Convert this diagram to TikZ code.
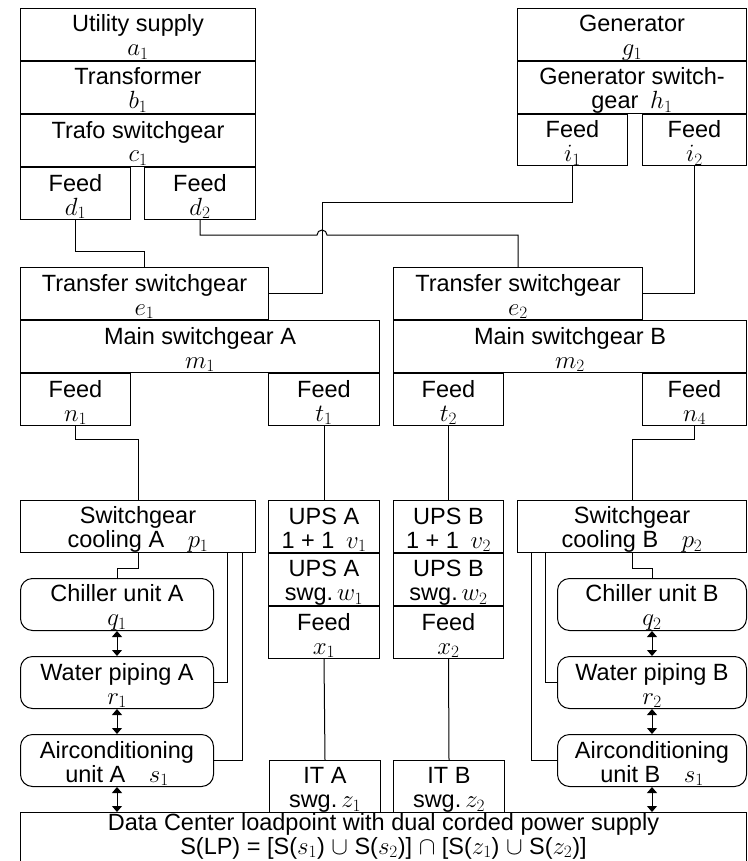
\documentclass[tikz,border=0pt]{standalone}
\usepackage{fontspec}
\setmainfont{Liberation Sans}
\usetikzlibrary{positioning,arrows.meta,calc}

\newcommand{\boxfont}{\fontsize{23.5}{24}\selectfont}

\begin{document}
\begin{tikzpicture}[x=1pt,y=-1pt,line width=1pt,
    box/.style={draw,rectangle,inner sep=0pt,align=center,font=\boxfont,
      execute at begin node={\rule[-4pt]{0pt}{51pt}}},
    unit/.style={box,rounded corners=12pt},
    lpbox/.style={draw,rectangle,inner sep=0pt,align=center,font=\boxfont,
      execute at begin node={\rule[-14pt]{0pt}{55pt}}},
    dbl/.style={{Triangle[width=10pt,length=6pt]}-{Triangle[width=10pt,length=6pt]}}]

    \useasboundingbox (0,0) rectangle (747,861);

    % Nodes - utility side
    \node[box,anchor=north west,minimum width=235pt,minimum height=52pt] (a1) at (20,8) {Utility supply\\$a_1$};
    \node[box,minimum width=235pt,minimum height=52pt] (b1) [below=0pt of a1] {Transformer\\$b_1$};
    \node[box,minimum width=235pt,minimum height=52pt] (c1) [below=0pt of b1] {Trafo switchgear\\$c_1$};
    \node[box,minimum width=110pt,minimum height=52pt] (d1) [below=0pt of c1.south west,anchor=north west] {Feed\\$d_1$};
    \node[box,minimum width=111pt,minimum height=52pt] (d2) [below=0pt of c1.south east,anchor=north east] {Feed\\$d_2$};

    % Nodes - generator side
    \node[box,anchor=north west,minimum width=229pt,minimum height=52pt] (g1) at (517,8) {Generator\\$g_1$};
    \node[box,minimum width=229pt,minimum height=52pt] (h1) [below=0pt of g1] {Generator switch-\\gear\enspace$h_1$};
    \node[box,minimum width=110pt,minimum height=51pt] (i1) [below=0pt of h1.south west,anchor=north west] {Feed\\$i_1$};
    \node[box,minimum width=104pt,minimum height=51pt] (i2) [below=0pt of h1.south east,anchor=north east] {Feed\\$i_2$};

    % Nodes - switchgear A and B
    \node[box,anchor=north west,minimum width=248pt,minimum height=52pt] (e1) at (20,267) {Transfer switchgear\\$e_1$};
    \node[box,minimum width=359pt,minimum height=52pt] (m1) [below=0pt of e1.south west,anchor=north west] {Main switchgear A\\$m_1$};
    \node[box,minimum width=110pt,minimum height=52pt] (n1) [below=0pt of m1.south west,anchor=north west] {Feed\\$n_1$};
    \node[box,minimum width=111pt,minimum height=52pt] (t1) [below=0pt of m1.south east,anchor=north east] {Feed\\$t_1$};

    \node[box,anchor=north west,minimum width=249pt,minimum height=52pt] (e2) at (393,267) {Transfer switchgear\\$e_2$};
    \node[box,minimum width=353pt,minimum height=52pt] (m2) [below=0pt of e2.south west,anchor=north west] {Main switchgear B\\$m_2$};
    \node[box,minimum width=110pt,minimum height=52pt] (t2) [below=0pt of m2.south west,anchor=north west] {Feed\\$t_2$};
    \node[box,minimum width=104pt,minimum height=52pt] (n4) [below=0pt of m2.south east,anchor=north east] {Feed\\$n_4$};

    % Nodes - cooling and UPS
    \node[box,anchor=north west,minimum width=235pt,minimum height=52pt] (p1) at (20,500) {Switchgear\\cooling A\quad$p_1$};
    \node[unit,anchor=north west,minimum width=193pt,minimum height=52pt] (q1) at (20,578) {Chiller unit A\\$q_1$};
    \node[unit,anchor=north west,minimum width=193pt,minimum height=52pt] (r1) at (20,656) {Water piping A\\$r_1$};
    \node[unit,anchor=north west,minimum width=193pt,minimum height=52pt] (s1) at (20,734) {Airconditioning\\unit A\quad$s_1$};

    \node[box,anchor=north west,minimum width=111pt,minimum height=52pt] (v1) at (268,500) {UPS A\\1 + 1\enspace$v_1$};
    \node[box,minimum width=111pt,minimum height=52pt] (w1) [below=0pt of v1] {UPS A\\swg.\,$w_1$};
    \node[box,minimum width=111pt,minimum height=52pt] (x1) [below=0pt of w1] {Feed\\$x_1$};

    \node[box,anchor=north west,minimum width=110pt,minimum height=52pt] (v2) at (393,500) {UPS B\\1 + 1\enspace$v_2$};
    \node[box,minimum width=110pt,minimum height=52pt] (w2) [below=0pt of v2] {UPS B\\swg.\,$w_2$};
    \node[box,minimum width=110pt,minimum height=52pt] (x2) [below=0pt of w2] {Feed\\$x_2$};

    \node[box,anchor=north west,minimum width=229pt,minimum height=52pt] (p2) at (517,500) {Switchgear\\cooling B\quad$p_2$};
    \node[unit,anchor=north west,minimum width=189pt,minimum height=52pt] (q2) at (557,578) {Chiller unit B\\$q_2$};
    \node[unit,anchor=north west,minimum width=189pt,minimum height=52pt] (r2) at (557,656) {Water piping B\\$r_2$};
    \node[unit,anchor=north west,minimum width=189pt,minimum height=52pt] (s2) at (557,734) {Airconditioning\\unit B\quad$s_1$};

    % Nodes - IT and loadpoint
    \node[box,anchor=north west,minimum width=111pt,minimum height=52pt] (za) at (269,760) {IT A\\swg.\,$z_1$};
    \node[box,anchor=north west,minimum width=111pt,minimum height=52pt] (zb) at (393,760) {IT B\\swg.\,$z_2$};
    \node[lpbox,anchor=north west,minimum width=726pt,minimum height=56pt] (lp) at (20,812) {Data Center loadpoint with dual corded power supply\\S(LP) = [S($s_1$) $\cup$ S($s_2$)] $\cap$ [S($z_1$) $\cup$ S($z_2$)]};

    \coordinate (j1) at (322,202);

    % Paths - power
    \draw (d1.south) -- ++(0,31) -| (e1.north);
    \draw (d2.south) |- ($(j1)+(-5,33)$) arc[start angle=180,end angle=0,radius=5pt] -| (e2.north);
    \draw (i1.south) |- (j1) |- (e1.east);
    \draw (i2.south) |- (e2.east);
    \draw (n1.south) -- ++(0,13) -| (p1.north);
    \draw (t1.south) -- (v1.north);
    \draw (t2.south) -- (v2.north);
    \draw (n4.south) -- ++(0,13) -| (p2.north);
    \draw (x1.south) -- (za.north);
    \draw (x2.south) -- (zb.north);

    % Paths - cooling
    \draw (p1.south) -- ++(0,15) -| (q1.north);
    \draw ($(p1.south east)+(-29,0)$) |- (r1.east);
    \draw ($(p1.south east)+(-14,0)$) |- (s1.east);
    \draw (p2.south) -- ++(0,15) -| (q2.north);
    \draw ($(p2.south west)+(28,0)$) |- (r2.west);
    \draw ($(p2.south west)+(14,0)$) |- (s2.west);

    \draw[dbl] (q1.south) -- (r1.north);
    \draw[dbl] (r1.south) -- (s1.north);
    \draw[dbl] (s1.south) -- (s1.south |- lp.north);
    \draw[dbl] (q2.south) -- (r2.north);
    \draw[dbl] (r2.south) -- (s2.north);
    \draw[dbl] (s2.south) -- (s2.south |- lp.north);

  \end{tikzpicture}
\end{document}
